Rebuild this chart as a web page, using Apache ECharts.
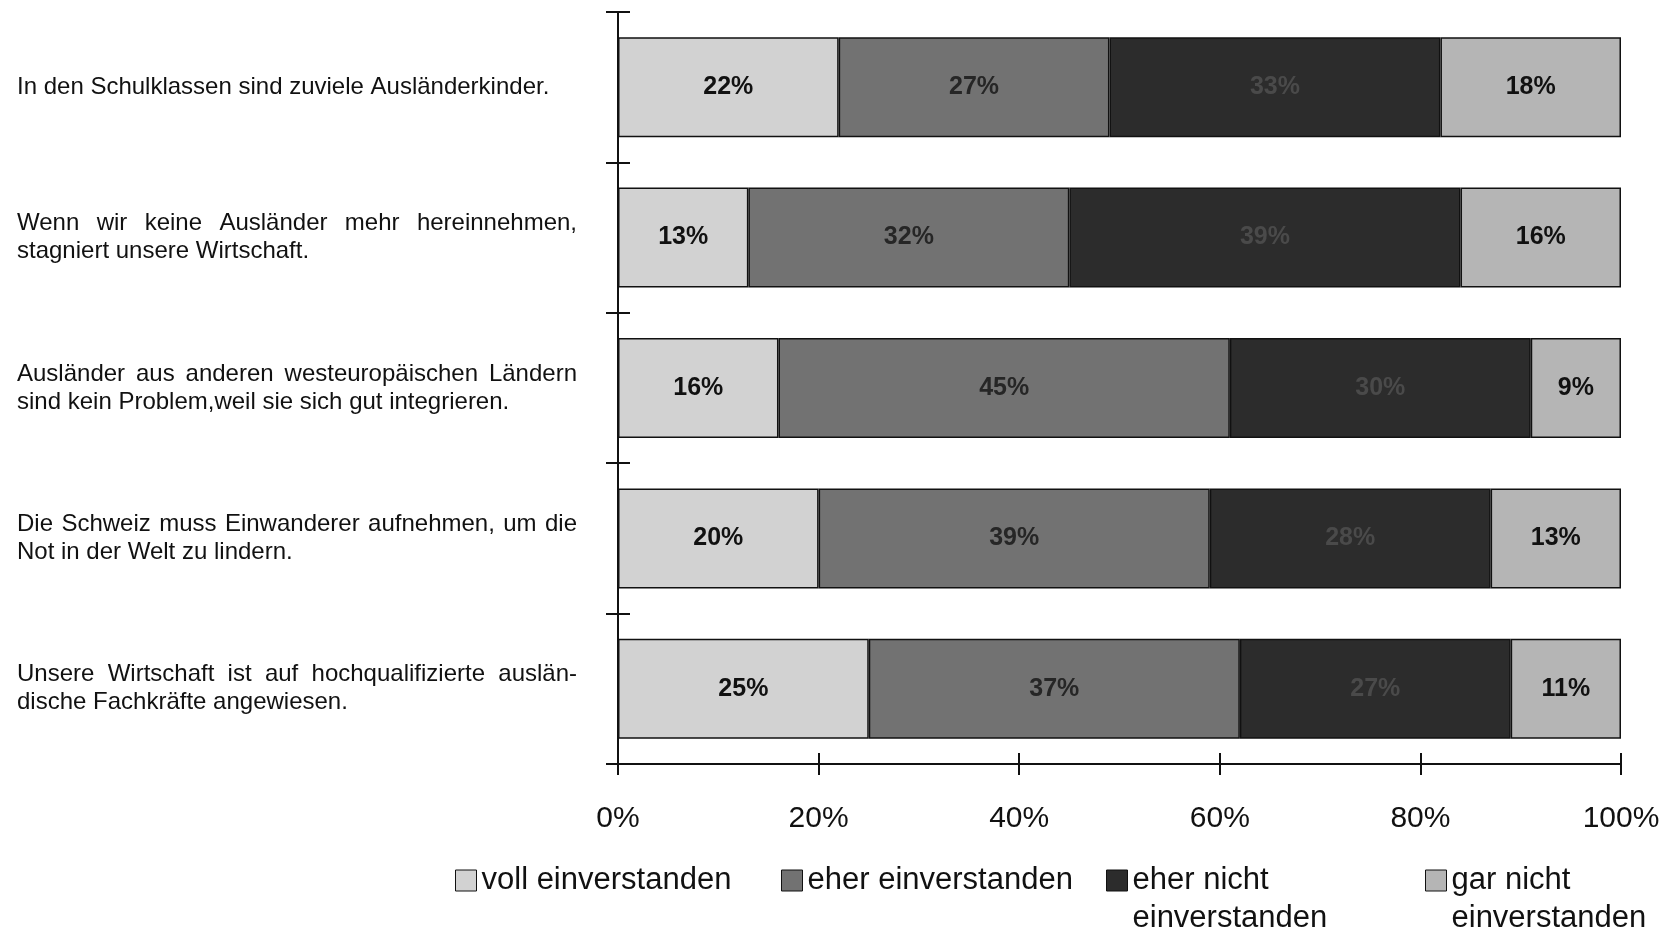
<!DOCTYPE html>
<html>
<head>
<meta charset="utf-8">
<script src="https://cdn.jsdelivr.net/npm/echarts@6/dist/echarts.min.js"></script>
<style>
html,body{margin:0;padding:0;background:#fff;}
#chart{width:1668px;height:932px;}
</style>
</head>
<body>
<div id="chart"></div>
<script>
const categories = [
  "In den Schulklassen sind zuviele Ausländerkinder.",
  "Wenn wir keine Ausländer mehr hereinnehmen,\nstagniert unsere Wirtschaft.",
  "Ausländer aus anderen westeuropäischen Ländern\nsind kein Problem,weil sie sich gut integrieren.",
  "Die Schweiz muss Einwanderer aufnehmen, um die\nNot in der Welt zu lindern.",
  "Unsere Wirtschaft ist auf hochqualifizierte auslän-\ndische Fachkräfte angewiesen."
];
const seriesNames = ["voll einverstanden", "eher einverstanden", "eher nicht einverstanden", "gar nicht einverstanden"];
const legendLabels = ["voll einverstanden", "eher einverstanden", "eher nicht\neinverstanden", "gar nicht\neinverstanden"];
const vollEinverstanden = [22, 13, 16, 20, 25];
const eherEinverstanden = [27, 32, 45, 39, 37];
const eherNichtEinverstanden = [33, 39, 30, 28, 27];
const garNichtEinverstanden = [18, 16, 9, 13, 11];
const xTicks = [0, 20, 40, 60, 80, 100];

const values = [vollEinverstanden, eherEinverstanden, eherNichtEinverstanden, garNichtEinverstanden];
const colors = ['#d2d2d2', '#727272', '#2c2c2c', '#b5b5b5'];
const labelColors = ['#111', '#262626', '#4a4a4a', '#111'];
const FONT = 'Liberation Sans, Arial, sans-serif';
const CAT_FONT_SIZE = 24;
const JUSTIFY_WIDTH = 560;

// justification of the first line of multi-line category labels
const ctx = document.createElement('canvas').getContext('2d');
ctx.font = CAT_FONT_SIZE + 'px ' + FONT;
const rich = { w: { fontFamily: FONT, fontSize: CAT_FONT_SIZE, lineHeight: 28, color: '#111' } };
const richLabels = categories.map((c, ci) => {
  const lines = c.split('\n');
  return lines.map((ln, li) => {
    const words = ln.split(' ');
    if (lines.length > 1 && li === 0 && words.length > 1) {
      const total = words.reduce((s, w) => s + ctx.measureText(w).width, 0);
      const gap = (JUSTIFY_WIDTH - total) / (words.length - 1);
      const key = 'g' + ci;
      rich[key] = { width: gap, fontFamily: FONT, fontSize: CAT_FONT_SIZE, lineHeight: 28 };
      return words.map(w => '{w|' + w + '}').join('{' + key + '| }');
    }
    return '{w|' + ln + '}';
  }).join('\n');
});
const labelMap = {};
categories.forEach((c, i) => { labelMap[c] = richLabels[i]; });

const chart = echarts.init(document.getElementById('chart'));

const series = values.map((v, i) => ({
  name: seriesNames[i],
  type: 'bar',
  stack: 'total',
  xAxisIndex: 0,
  yAxisIndex: 0,
  barWidth: 100,
  data: v,
  itemStyle: { color: colors[i], borderColor: '#111', borderWidth: 1.5 },
  label: {
    show: true, position: 'inside', formatter: '{c}%',
    color: labelColors[i], fontFamily: FONT, fontWeight: 'bold', fontSize: 25
  },
  emphasis: { disabled: true },
  animation: false
}));

const legendLefts = [455, 781, 1106, 1425];
const legends = seriesNames.map((n, i) => {
  const two = legendLabels[i].indexOf('\n') >= 0;
  return {
    data: [{ name: n, icon: 'rect' }],
    left: legendLefts[i],
    top: two ? 823.5 : 861.5,
    padding: 0,
    itemWidth: 21, itemHeight: 21, itemGap: 6,
    selectedMode: false,
    formatter: () => two ? '\n' + legendLabels[i] : legendLabels[i],
    itemStyle: { borderColor: '#111', borderWidth: 1 },
    textStyle: { fontFamily: FONT, fontSize: 31, color: '#111', lineHeight: 38 }
  };
});

const xAxisBase = {
  type: 'value', min: 0, max: 100, interval: 20,
  axisLine: { show: true, lineStyle: { color: '#111', width: 2 } },
  splitLine: { show: false }
};
const yAxisBase = {
  type: 'category', data: categories, inverse: true,
  axisLine: { show: true, lineStyle: { color: '#111', width: 2 } },
  splitLine: { show: false }
};

chart.setOption({
  backgroundColor: '#fff',
  animation: false,
  grid: { left: 618, right: 47, top: 12, bottom: 168, containLabel: false },
  legend: legends,
  xAxis: [
    Object.assign({}, xAxisBase, {
      position: 'bottom',
      axisTick: { show: true, length: 11, lineStyle: { color: '#111', width: 2 } },
      axisLabel: {
        show: true, formatter: v => v + '%', margin: 40,
        fontFamily: FONT, fontSize: 30, color: '#111'
      }
    }),
    Object.assign({}, xAxisBase, {
      position: 'bottom',
      axisTick: { show: true, inside: true, length: 11, lineStyle: { color: '#111', width: 2 } },
      axisLabel: { show: false }
    })
  ],
  yAxis: [
    Object.assign({}, yAxisBase, {
      position: 'left',
      axisTick: { show: true, length: 12, lineStyle: { color: '#111', width: 2 } },
      axisLabel: {
        show: true, align: 'left', margin: 601,
        formatter: v => labelMap[v],
        rich: rich,
        fontFamily: FONT, fontSize: CAT_FONT_SIZE, lineHeight: 28, color: '#111'
      }
    }),
    Object.assign({}, yAxisBase, {
      position: 'left', offset: 0,
      axisTick: { show: true, inside: true, length: 12, lineStyle: { color: '#111', width: 2 } },
      axisLabel: { show: false }
    })
  ],
  series: series
});
</script>
</body>
</html>
